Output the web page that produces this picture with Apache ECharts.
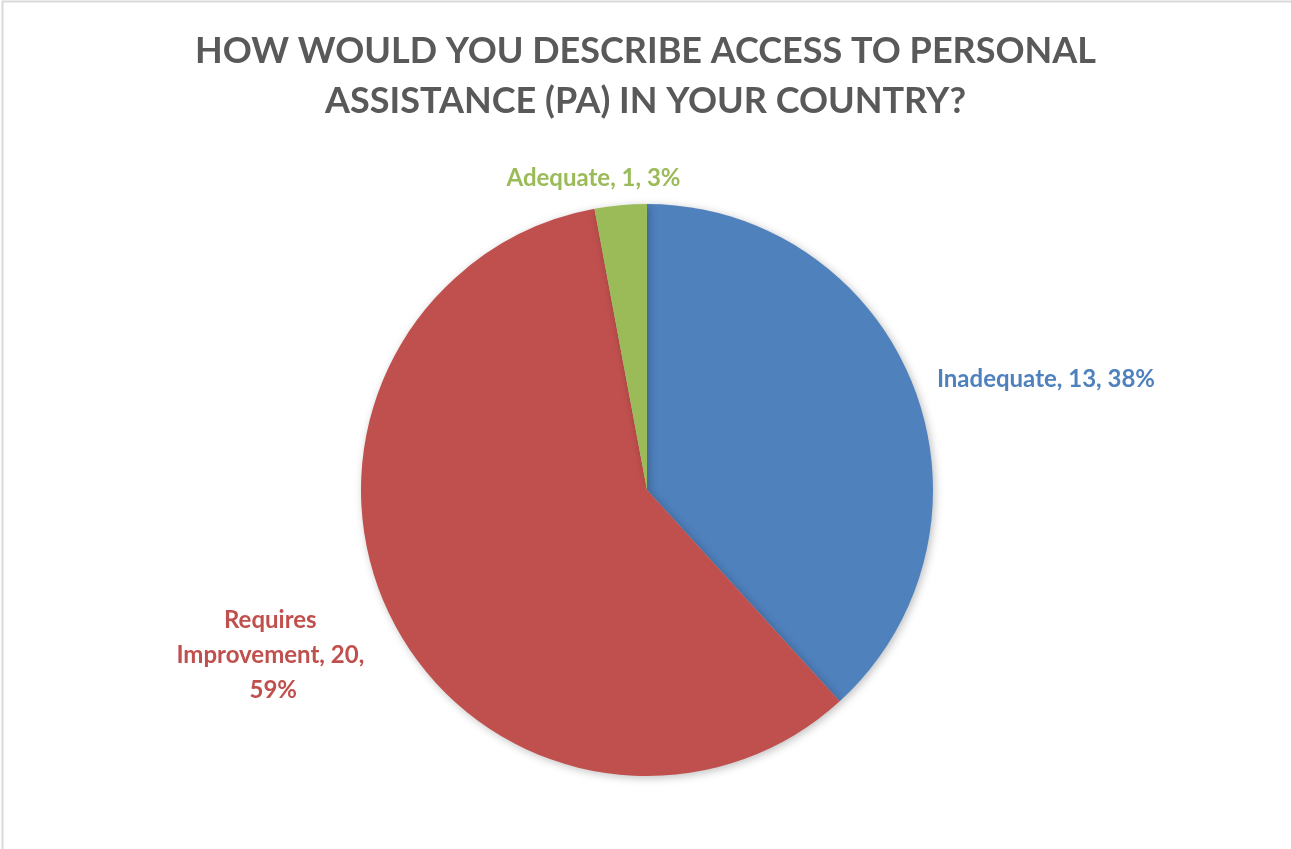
<!DOCTYPE html>
<html><head><meta charset="utf-8">
<script src="https://cdn.jsdelivr.net/npm/echarts@6/dist/echarts.min.js"></script>
<style>html,body{margin:0;padding:0;background:#fff}#c{width:1291px;height:849px}</style>
</head><body><div id="c"></div>
<script>
const titleText = 'HOW WOULD YOU DESCRIBE ACCESS TO PERSONAL\nASSISTANCE (PA) IN YOUR COUNTRY?';
const categories = ['Inadequate', 'Requires Improvement', 'Adequate'];
const values = [13, 20, 1];
const colors = ['#4F81BD', '#C0504D', '#9BBB59'];

const chart = echarts.init(document.getElementById('c'));
const FONT = 'Lato, "Open Sans", sans-serif';
// small nudges of the outside labels (Excel "best fit" placement)
const labelNudge = [
  {dx: 7, dy: -3},
  {dx: -102, dy: 32, align: 'center'},
  {dx: -21, dy: -15, align: 'center'}
];
chart.setOption({
  animation: false,
  backgroundColor: '#fff',
  graphic: [{
    type: 'rect', shape: {x: 2.5, y: 1.5, width: 1400, height: 900},
    style: {fill: 'none', stroke: '#d9d9d9', lineWidth: 2}, silent: true
  }],
  title: {
    text: titleText, left: 'center', top: 21,
    textStyle: {fontFamily: FONT, fontWeight: 'bold', fontSize: 36, color: '#595959', lineHeight: 50}
  },
  series: [{
    type: 'pie',
    center: [647, 490],
    radius: 286,
    startAngle: 90,
    clockwise: true,
    percentPrecision: 0,
    avoidLabelOverlap: false,
    itemStyle: {shadowBlur: 8, shadowColor: 'rgba(0,0,0,0.25)', shadowOffsetX: 2, shadowOffsetY: 2},
    labelLine: {show: false, length: 12, length2: 0},
    label: {
      position: 'outside',
      formatter: '{b}, {c}, {d}%',
      fontFamily: FONT, fontWeight: 'bold', fontSize: 24,
      lineHeight: 35
    },
    labelLayout: function (p) { return labelNudge[p.dataIndex]; },
    data: categories.map((n, i) => {
      const d = {name: n, value: values[i], itemStyle: {color: colors[i]}, label: {color: colors[i]}};
      if (i === 1) { d.label = {color: colors[i], width: 215, overflow: 'break'}; }
      return d;
    })
  }]
});
</script></body></html>
